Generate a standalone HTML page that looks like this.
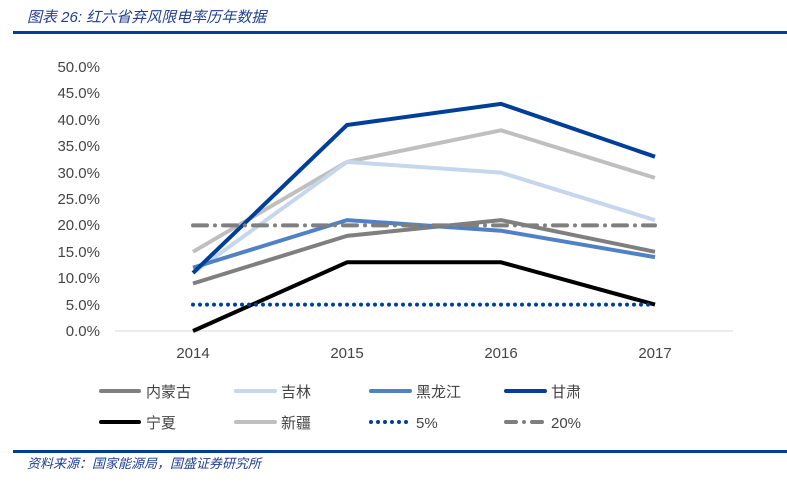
<!DOCTYPE html>
<html><head><meta charset="utf-8"><style>
body{margin:0;background:#fff;width:787px;height:485px;overflow:hidden}
svg{display:block}
text{font-family:"Liberation Sans","Noto Sans CJK SC",sans-serif}
</style></head><body>
<svg width="787" height="485" viewBox="0 0 787 485" xmlns="http://www.w3.org/2000/svg">
<text x="27" y="22" font-size="15" font-style="italic" fill="#1f3f8f">图表 26:  红六省弃风限电率历年数据</text>
<rect x="13" y="31" width="774" height="3" fill="#003f98"/>
<g font-size="15" fill="#444" text-anchor="end">
<text x="100" y="336">0.0%</text><text x="100" y="310">5.0%</text><text x="100" y="283">10.0%</text>
<text x="100" y="257">15.0%</text><text x="100" y="230">20.0%</text><text x="100" y="204">25.0%</text>
<text x="100" y="178">30.0%</text><text x="100" y="151">35.0%</text><text x="100" y="125">40.0%</text>
<text x="100" y="98">45.0%</text><text x="100" y="72">50.0%</text>
</g>
<line x1="115" y1="331" x2="733" y2="331" stroke="#d9d9d9" stroke-width="1"/>
<g font-size="15" fill="#444" text-anchor="middle">
<text x="193" y="358">2014</text><text x="347" y="358">2015</text><text x="501" y="358">2016</text><text x="655" y="358">2017</text>
</g>
<g fill="none" stroke-width="4" stroke-linejoin="round">
<polyline points="193,251.8 347,161.9 501,130.3 655,177.9" stroke="#bfbfbf"/>
<polyline points="193,272.9 347,161.9 501,172.6 655,220.1" stroke="#c6d6ec"/>
<polyline points="193,283.5 347,235.9 501,220.1 655,251.8" stroke="#7f7f7f"/>
<polyline points="193,267.6 347,220.1 501,230.7 655,257.1" stroke="#4f81c4"/>
<polyline points="193,272.9 347,125 501,103.9 655,156.7" stroke="#003f98"/>
<polyline points="193,331 347,262.3 501,262.3 655,304.6" stroke="#000"/>
<line x1="193" y1="304.6" x2="655" y2="304.6" stroke="#003f98" stroke-dasharray="0 7" stroke-linecap="round"/>
<line x1="193" y1="225.4" x2="655" y2="225.4" stroke="#7f7f7f" stroke-dasharray="14 8 0 8" stroke-linecap="round"/>
</g>
<g stroke-width="4" stroke-linecap="round">
<line x1="101" y1="391" x2="139" y2="391" stroke="#7f7f7f"/>
<line x1="236" y1="391" x2="275" y2="391" stroke="#c6d6ec"/>
<line x1="371" y1="391" x2="410" y2="391" stroke="#4f81c4"/>
<line x1="506" y1="391" x2="545" y2="391" stroke="#003f98"/>
<line x1="101" y1="422" x2="139" y2="422" stroke="#000"/>
<line x1="236" y1="422" x2="275" y2="422" stroke="#bfbfbf"/>
<line x1="371" y1="422" x2="408" y2="422" stroke="#003f98" stroke-dasharray="0 7"/>
<line x1="506" y1="422" x2="545" y2="422" stroke="#7f7f7f" stroke-dasharray="10 8 0 8"/>
</g>
<g font-size="15" fill="#444">
<text x="146" y="397">内蒙古</text><text x="281" y="397">吉林</text><text x="416" y="397">黑龙江</text><text x="551" y="397">甘肃</text>
<text x="146" y="428">宁夏</text><text x="281" y="428">新疆</text><text x="416" y="428">5%</text><text x="551" y="428">20%</text>
</g>
<rect x="13" y="450" width="774" height="3" fill="#003f98"/>
<text x="27" y="468" font-size="13" font-style="italic" fill="#1f3f8f">资料来源：国家能源局，国盛证券研究所</text>
</svg>
</body></html>
